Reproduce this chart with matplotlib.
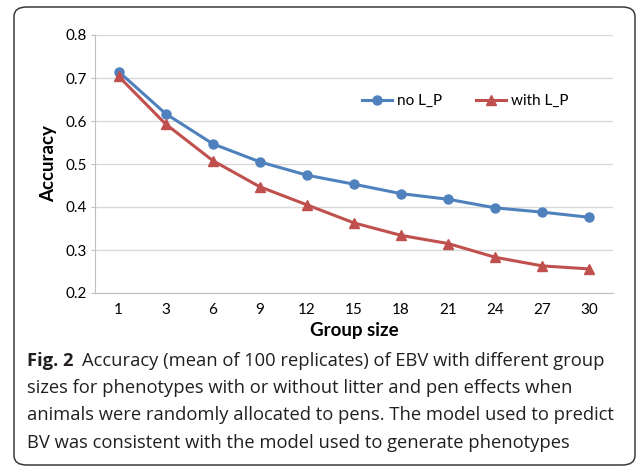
import numpy as np
import matplotlib
matplotlib.use("Agg")
import matplotlib.pyplot as plt
from matplotlib.patches import FancyBboxPatch

# data
group_sizes = ["1", "3", "6", "9", "12", "15", "18", "21", "24", "27", "30"]
acc_no_lp = [0.715, 0.617, 0.547, 0.505, 0.474, 0.453, 0.431, 0.418, 0.398, 0.388, 0.376]
acc_with_lp = [0.704, 0.593, 0.508, 0.447, 0.405, 0.363, 0.334, 0.315, 0.283, 0.263, 0.256]
y_ticks = [0.2, 0.3, 0.4, 0.5, 0.6, 0.7, 0.8]

caption_bold = "Fig. 2"
caption_lines = [
    "Accuracy (mean of 100 replicates) of EBV with different group",
    "sizes for phenotypes with or without litter and pen effects when",
    "animals were randomly allocated to pens. The model used to predict",
    "BV was consistent with the model used to generate phenotypes",
]

W, H = 638, 468
fig = plt.figure(figsize=(W / 100, H / 100), dpi=100)
renderer = fig.canvas.get_renderer()

#rounded frame around figure + caption
frame = FancyBboxPatch((14 / W, 3 / H), 621 / W, 458 / H,
                       boxstyle="round,pad=0,rounding_size=0.02",
                       transform=fig.transFigure, facecolor="none",
                       edgecolor="#3a3a3a", linewidth=1.1)
fig.patches.append(frame)

ax = fig.add_axes([95 / W, 1 - 293 / H, 518 / W, 258 / H])
x = np.arange(len(group_sizes))
ax.plot(x, acc_no_lp, color="#4F81BD", lw=2.2, marker="o", ms=6.5, label="no L_P")
ax.plot(x, acc_with_lp, color="#C0504D", lw=2.2, marker="^", ms=7, label="with L_P")

ax.set_xlim(-0.5, len(group_sizes) - 0.5)
ax.set_ylim(0.2, 0.8)
ax.set_yticks(y_ticks)
ax.set_yticklabels(["%.1f" % v for v in y_ticks])
ax.set_xticks(x)
ax.set_xticklabels(group_sizes)
ax.grid(axis="y", color="#d9d9d9", lw=1)
ax.set_axisbelow(True)
for s in ["top", "right"]:
    ax.spines[s].set_visible(False)
for s in ["left", "bottom"]:
    ax.spines[s].set_color("#bfbfbf")
ax.tick_params(axis="y", length=3, color="#bfbfbf", labelsize=11, pad=3)
ax.tick_params(axis="x", length=0, labelsize=11, pad=7)
for lab in ax.get_xticklabels() + ax.get_yticklabels():
    lab.set_family("Lato")

ax.set_xlabel("Group size", fontsize=13.5, fontweight="bold", family="Lato", labelpad=4)
ax.set_ylabel("Accuracy", fontsize=13.5, fontweight="bold", family="Lato", labelpad=6)

ax.legend(loc="center left", bbox_to_anchor=(0.515, 0.744), ncol=2, frameon=False,
          prop={"family": "Lato", "size": 11}, handlelength=2.0,
          columnspacing=2.2, handletextpad=0.3, borderpad=0, borderaxespad=0)

#caption: pick a font size so the widest line fits the reference width
cap_x = 27 / W
base_y = [366, 393, 420.5, 448]
probe = fig.text(0, 0, caption_lines[2], fontsize=10, family="Open Sans")
wid = probe.get_window_extent(renderer).width
probe.remove()
fs = 10 * 584 / wid

t = fig.text(cap_x, 1 - base_y[0] / H, caption_bold, fontsize=fs, fontweight="bold",
             family="Open Sans", va="baseline", color="#231f20")
bb = t.get_window_extent(renderer)
fig.text(bb.x1 / W + 8 / W, 1 - base_y[0] / H, caption_lines[0], fontsize=fs,
         family="Open Sans", va="baseline", color="#231f20")
for line, yb in zip(caption_lines[1:], base_y[1:]):
    fig.text(cap_x, 1 - yb / H, line, fontsize=fs, family="Open Sans",
             va="baseline", color="#231f20")

fig.savefig("out.png", dpi=100)
